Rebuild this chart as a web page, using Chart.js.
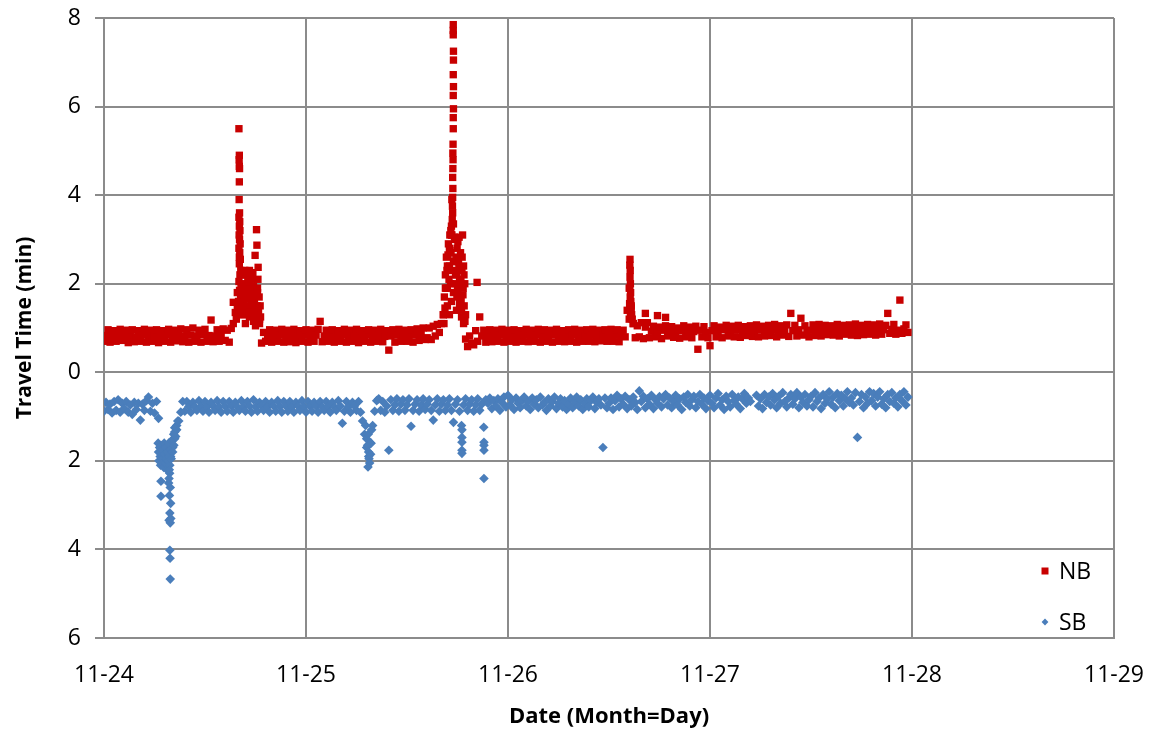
<!DOCTYPE html>
<html>
<head>
<meta charset="utf-8">
<script src="https://cdn.jsdelivr.net/npm/chart.js@4.4.0/dist/chart.umd.min.js"></script>
<style>
  body { margin: 0; background: #fff; }
  canvas { display: block; }
</style>
</head>
<body>
<canvas id="chart1" width="1149" height="730"></canvas>
<script>
// time in days after 11-24 00:00, regular readings every STEP days
const STEP = 0.01;
const dayLabels = ['11-24', '11-25', '11-26', '11-27', '11-28', '11-29'];

const nbValues = [
  0.7,0.83,0.96,0.68,0.82,0.94,0.7,0.84,0.97,0.72,
  0.81,0.95,0.67,0.83,0.96,0.69,0.8,0.94,0.7,0.84,
  0.97,0.68,0.82,0.95,0.7,0.83,0.96,0.67,0.81,0.94,
  0.7,0.84,0.97,0.68,0.82,0.95,0.71,0.83,0.98,0.69,
  0.82,0.96,0.68,0.84,1.0,0.7,0.82,0.95,0.68,0.85,
  0.97,0.7,0.83,1.18,0.69,0.82,0.96,0.7,0.84,0.98,
  0.72,0.95,0.68,0.99,1.1,1.35,1.8,2.6,1.9,1.5,
  1.3,1.7,2.1,1.6,1.9,1.4,1.8,1.2,0.66,0.9,
  0.7,0.83,0.96,0.68,0.82,0.95,0.7,0.84,0.97,0.68,
  0.82,0.95,0.69,0.83,0.97,0.67,0.81,0.94,0.7,0.84,
  0.96,0.68,0.82,0.95,0.7,0.84,0.97,1.15,0.69,0.82,
  0.95,0.7,0.83,0.96,0.68,0.82,0.94,0.7,0.84,0.97,
  0.68,0.82,0.95,0.7,0.83,0.97,0.67,0.81,0.94,0.7,
  0.84,0.96,0.68,0.82,0.95,0.7,0.83,0.97,0.69,0.81,
  0.94,0.5,0.82,0.96,0.68,0.84,0.97,0.7,0.82,0.95,
  0.7,0.83,0.96,0.68,0.84,0.98,0.72,0.85,1.0,0.74,
  0.78,1.0,0.74,1.04,0.82,1.08,0.9,1.1,1.3,1.9,
  2.4,2.8,3.1,2.5,2.2,1.9,1.6,1.4,1.1,0.75,
  0.58,0.82,0.66,0.62,0.94,0.7,1.25,0.82,0.95,0.68,
  0.83,0.96,0.69,0.82,0.95,0.7,0.84,0.97,0.68,0.81,
  0.95,0.7,0.83,0.96,0.68,0.82,0.94,0.7,0.84,0.97,
  0.69,0.82,0.95,0.7,0.84,0.97,0.68,0.83,0.96,0.7,
  0.82,0.95,0.68,0.84,0.97,0.7,0.82,0.94,0.69,0.83,
  0.96,0.7,0.84,0.97,0.68,0.82,0.95,0.7,0.83,0.96,
  0.7,0.84,0.97,0.69,0.82,0.95,0.71,0.83,0.96,0.7,
  0.83,0.97,0.7,0.84,0.96,0.69,0.82,0.95,0.8,1.4,
  1.9,1.5,1.1,0.78,1.05,0.8,1.12,0.76,1.02,1.12,
  0.78,0.93,1.04,0.8,0.9,1.02,0.76,0.95,1.05,0.82,
  0.92,1.03,0.79,0.88,1.0,0.77,0.94,1.05,0.8,0.9,
  1.02,0.78,0.92,1.04,0.52,0.95,0.8,1.03,0.9,0.78,
  0.6,0.94,1.05,0.8,0.91,1.02,0.78,0.96,1.06,0.82,
  0.92,1.04,0.8,0.95,1.06,0.79,0.9,1.03,0.83,0.96,
  1.05,0.81,0.93,1.07,0.8,0.96,1.04,0.82,0.92,1.06,
  0.83,0.95,1.08,0.8,0.94,1.05,0.84,0.97,1.07,0.81,
  1.33,0.94,1.06,0.82,0.96,1.22,0.84,1.05,0.93,0.8,
  0.95,1.07,0.83,0.97,1.08,0.82,0.94,1.06,0.85,0.96,
  1.05,0.84,0.95,1.08,0.82,0.97,1.06,0.86,0.94,1.07,
  0.84,0.96,1.09,0.83,0.95,1.06,0.85,0.98,1.08,0.86,
  0.95,1.07,0.84,0.97,1.09,0.86,0.96,1.06,1.33,0.88,
  0.97,1.08,0.86,0.95,1.63,0.88,0.98,1.07,0.9
];

// extra readings inside the congestion peaks
const nbPeakTimes = [
  0.668,0.670,0.669,0.670,0.671,0.670,0.669,0.671,0.668,0.672,0.670,0.673,0.669,0.671,0.674,
  0.668,0.672,0.675,0.670,0.677,0.673,0.668,0.679,0.671,0.676,0.666,0.680,0.672,0.664,
  0.640,0.655,0.660,0.685,0.690,0.695,0.700,0.705,0.710,0.715,0.720,0.725,0.730,0.735,0.740,
  0.745,0.748,0.752,0.755,0.757,0.758,0.760,0.763,0.765,0.768,0.770,0.773,0.775,0.700,0.720,0.740,0.750,
  0.682,0.687,0.692,0.697,0.702,0.707,0.712,0.717,0.722,0.727,0.732,0.737,0.742,0.747,0.762,0.767,
  1.729,1.729,1.729,1.730,1.730,1.729,1.730,1.729,1.730,1.729,1.729,1.728,1.727,1.728,1.727,
  1.726,1.727,1.726,1.725,1.726,1.722,1.724,1.720,1.730,1.722,1.735,
  1.680,1.685,1.690,1.695,1.700,1.705,1.710,1.712,1.715,1.718,1.720,1.735,1.740,1.745,1.748,
  1.750,1.755,1.758,1.760,1.765,1.768,1.772,1.775,1.778,1.780,1.783,1.786,1.790,
  1.725,1.730,1.738,1.745,1.700,1.710,1.760,1.770,1.847,
  1.683,1.688,1.693,1.698,1.703,1.708,1.713,1.717,1.742,1.747,1.752,1.757,1.762,1.767,1.773,
  1.777,1.782,1.787,
  2.604,2.603,2.605,2.604,2.606,2.603,2.607,2.605,2.608,2.602,2.610,2.612,2.606,2.615,2.600,2.620,
  2.680,2.740,2.780
];
const nbPeakValues = [
  5.5,4.9,4.8,4.65,4.6,4.3,3.9,3.6,3.5,3.4,3.3,3.2,3.1,3.0,2.9,
  2.8,2.7,2.55,2.45,2.3,2.2,2.05,1.95,1.85,1.7,1.6,1.5,1.4,1.3,
  1.58,1.2,1.45,1.3,1.6,2.0,1.8,2.2,1.5,1.9,2.3,1.7,2.1,1.4,1.95,
  1.6,2.64,1.8,3.22,2.87,1.5,1.9,2.37,1.35,1.7,1.1,1.5,1.25,1.1,1.25,1.15,1.05,
  1.9,2.2,1.75,2.3,1.4,1.65,2.05,1.35,1.85,2.2,1.55,2.25,1.3,1.75,2.1,1.15,
  7.85,7.72,7.62,7.25,7.05,6.72,6.45,6.25,5.95,5.75,5.5,5.15,4.95,4.8,4.6,
  4.4,4.15,3.95,3.75,3.6,3.9,3.45,3.3,3.35,3.1,3.05,
  1.3,1.7,2.2,2.6,1.9,2.9,2.4,3.1,2.0,2.7,1.6,2.5,3.0,2.2,2.8,
  1.8,2.5,3.05,2.1,2.7,1.6,2.3,3.1,1.9,2.4,1.5,2.0,1.3,
  2.3,1.8,2.0,1.4,1.5,1.3,1.45,1.25,2.03,
  1.1,1.45,1.9,2.3,2.65,2.1,2.75,3.2,2.6,1.7,2.95,2.35,1.55,2.05,2.6,
  1.75,2.2,1.15,
  2.55,2.42,2.3,2.15,2.0,1.9,1.8,1.7,1.6,1.55,1.45,1.3,1.35,1.2,1.2,1.1,
  1.33,1.28,1.24
];

const sbValues = [
  -0.88,-0.68,-0.84,-0.72,-0.92,-0.66,-0.86,-0.62,-0.9,-0.7,
  -0.82,-0.66,-0.9,-0.74,-0.95,-0.68,-0.84,-0.7,-1.08,-0.72,
  -0.86,-0.64,-0.56,-0.88,-0.7,-0.92,-0.66,-1.04,-1.7,-1.9,
  -2.0,-1.8,-2.2,-1.9,-1.7,-1.5,-1.3,-1.1,-0.9,-0.66,
  -0.88,-0.66,-0.77,-0.9,-0.68,-0.78,-0.86,-0.64,-0.76,-0.88,
  -0.66,-0.78,-0.9,-0.68,-0.76,-0.86,-0.64,-0.78,-0.9,-0.66,
  -0.77,-0.88,-0.66,-0.76,-0.9,-0.68,-0.78,-0.86,-0.64,-0.77,
  -0.88,-0.66,-0.76,-0.9,-0.62,-0.78,-0.88,-0.68,-0.76,-0.86,
  -0.66,-0.78,-0.9,-0.68,-0.76,-0.88,-0.64,-0.77,-0.9,-0.66,
  -0.76,-0.88,-0.66,-0.78,-0.9,-0.68,-0.76,-0.86,-0.64,-0.78,
  -0.9,-0.66,-0.77,-0.88,-0.68,-0.76,-0.9,-0.66,-0.78,-0.86,
  -0.66,-0.77,-0.9,-0.68,-0.78,-0.86,-0.64,-0.76,-1.15,-0.88,
  -0.66,-0.78,-0.9,-0.68,-0.76,-0.86,-0.66,-0.9,-1.1,-1.4,
  -1.7,-1.9,-1.6,-1.2,-0.88,-0.64,-0.6,-0.86,-0.66,-0.9,
  -0.76,-1.76,-0.62,-0.86,-0.74,-0.6,-0.88,-0.72,-0.62,-0.86,
  -0.74,-0.6,-1.22,-0.86,-0.72,-0.62,-0.88,-0.74,-0.6,-0.84,
  -0.72,-0.62,-0.86,-1.08,-0.74,-0.6,-0.88,-0.72,-0.62,-0.86,
  -0.74,-0.6,-0.86,-1.13,-0.72,-0.62,-0.88,-1.2,-0.74,-0.6,
  -0.86,-0.72,-0.62,-0.88,-0.74,-0.6,-0.86,-0.72,-1.24,-0.62,
  -0.7,-0.58,-0.82,-0.64,-0.76,-0.6,-0.86,-0.68,-0.56,-0.78,
  -0.52,-0.74,-0.62,-0.84,-0.58,-0.7,-0.8,-0.64,-0.56,-0.76,
  -0.66,-0.84,-0.58,-0.72,-0.62,-0.8,-0.56,-0.74,-0.68,-0.86,
  -0.6,-0.76,-0.66,-0.56,-0.82,-0.7,-0.6,-0.78,-0.64,-0.84,
  -0.72,-0.58,-0.8,-0.66,-0.56,-0.76,-0.62,-0.84,-0.7,-0.6,
  -0.78,-0.64,-0.56,-0.82,-0.68,-0.6,-0.74,-1.7,-0.58,-0.8,
  -0.7,-0.58,-0.84,-0.64,-0.52,-0.78,-0.6,-0.72,-0.54,-0.82,
  -0.62,-0.76,-0.56,-0.68,-0.84,-0.42,-0.66,-0.54,-0.8,-0.6,
  -0.72,-0.52,-0.82,-0.62,-0.7,-0.55,-0.78,-0.6,-0.5,-0.74,
  -0.58,-0.8,-0.66,-0.52,-0.74,-0.6,-0.84,-0.56,-0.68,-0.5,
  -0.76,-0.62,-0.54,-0.8,-0.66,-0.5,-0.72,-0.58,-0.82,-0.64,
  -0.52,-0.7,-0.8,-0.58,-0.48,-0.74,-0.62,-0.84,-0.54,-0.66,
  -0.78,-0.5,-0.64,-0.72,-0.56,-0.82,-0.6,-0.48,-0.7,-0.58,
  -0.66,null,null,-0.52,-0.76,-0.6,-0.82,-0.5,-0.68,-0.56,
  -0.74,-0.48,-0.62,-0.8,-0.54,-0.7,-0.46,-0.66,-0.78,-0.58,
  -0.5,-0.72,-0.6,-0.46,-0.8,-0.56,-0.68,-0.5,-0.76,-0.62,
  -0.54,-0.78,-0.46,-0.66,-0.58,-0.82,-0.5,-0.7,-0.6,-0.44,
  -0.72,-0.56,-0.8,-0.48,-0.64,-0.52,-0.76,-0.6,-0.44,-0.68,
  -0.58,-0.74,-0.46,-1.47,-0.66,-0.5,-0.8,-0.56,-0.7,-0.44,
  -0.64,-0.48,-0.76,-0.56,-0.44,-0.72,-0.6,-0.8,-0.5,-0.66,
  -0.46,-0.7,-0.58,-0.78,-0.5,-0.64,-0.44,-0.74,-0.56
];

const sbPeakTimes = [
  0.268,0.270,0.272,0.275,0.278,0.280,0.282,0.285,0.288,0.290,0.293,0.296,0.298,0.300,0.303,
  0.306,0.309,0.312,0.315,0.318,0.320,0.323,0.326,0.330,0.333,0.336,0.340,0.343,0.346,0.350,
  0.355,0.360,0.365,0.350,0.345,
  0.325,0.322,0.328,0.324,0.330,0.326,0.322,0.328,0.326,0.327,0.328,0.282,0.282,0.320,0.331,0.323,
  1.300,1.305,1.310,1.312,1.315,1.307,1.320,1.308,1.322,1.325,1.295,
  1.772,1.772,1.772,1.772,1.772,
  1.881,1.881,1.881,1.881
];
const sbPeakValues = [
  -1.6,-1.8,-2.0,-1.7,-1.9,-2.1,-1.65,-1.85,-2.05,-1.75,-1.95,-2.15,-1.6,-1.85,-2.05,
  -1.7,-1.95,-2.2,-1.8,-2.0,-1.6,-1.9,-2.1,-1.75,-1.95,-1.55,-1.8,-1.5,-1.65,-1.35,
  -1.45,-1.2,-1.1,-1.25,-1.4,
  -2.28,-2.4,-2.6,-2.78,-2.96,-3.18,-3.34,-3.4,-4.02,-4.2,-4.67,-2.46,-2.8,-2.5,-3.3,-2.2,
  -1.5,-1.65,-1.8,-1.95,-2.05,-2.14,-1.85,-1.4,-1.6,-1.3,-1.2,
  -1.3,-1.47,-1.58,-1.76,-1.83,
  -1.58,-1.65,-1.76,-2.4
];

function toPoints(values, times, peakValues) {
  const pts = [];
  values.forEach((v, i) => { if (v !== null) pts.push({ x: i * STEP, y: v }); });
  times.forEach((t, i) => pts.push({ x: t, y: peakValues[i] }));
  return pts;
}

const gridColor = '#8b8b8b';
const fontFamily = '"Open Sans", sans-serif';

// legend drawn inside the plot, lower right
const innerLegend = {
  id: 'innerLegend',
  afterDraw(chart) {
    const ctx = chart.ctx;
    const a = chart.chartArea;
    const rows = [a.bottom - 67, a.bottom - 16];
    chart.data.datasets.forEach((ds, i) => {
      const x = a.right - 69;
      const y = rows[i];
      ctx.save();
      ctx.fillStyle = ds.backgroundColor;
      ctx.beginPath();
      if (ds.pointStyle === 'rect') {
        ctx.rect(x - 3.5, y - 3.5, 7, 7);
      } else {
        ctx.moveTo(x, y - 3.4); ctx.lineTo(x + 3.4, y);
        ctx.lineTo(x, y + 3.4); ctx.lineTo(x - 3.4, y);
        ctx.closePath();
      }
      ctx.fill();
      ctx.fillStyle = '#000';
      ctx.font = '23px ' + fontFamily;
      ctx.textAlign = 'left';
      ctx.textBaseline = 'middle';
      ctx.fillText(ds.label, x + 14, y + 1);
      ctx.restore();
    });
  }
};

new Chart(document.getElementById('chart1'), {
  type: 'scatter',
  data: {
    datasets: [
      {
        label: 'NB',
        data: toPoints(nbValues, nbPeakTimes, nbPeakValues),
        backgroundColor: '#c80000',
        borderColor: '#c80000',
        pointStyle: 'rect',
        pointRadius: 5.2,
        pointBorderWidth: 0
      },
      {
        label: 'SB',
        data: toPoints(sbValues, sbPeakTimes, sbPeakValues),
        backgroundColor: '#4a7ebb',
        borderColor: '#4a7ebb',
        pointStyle: 'rectRot',
        pointRadius: 4.8,
        pointBorderWidth: 0
      }
    ]
  },
  options: {
    responsive: false,
    animation: false,
    devicePixelRatio: 1,
    layout: { autoPadding: false, padding: { left: 0, right: 35, top: 18, bottom: 0 } },
    plugins: {
      legend: { display: false },
      tooltip: { enabled: false }
    },
    scales: {
      x: {
        type: 'linear',
        min: 0,
        max: 5,
        // fixed axis box; labels may overhang the plot edges
        afterFit: (s) => { s.height = 92; s.paddingLeft = 0; s.paddingRight = 0; },
        ticks: {
          stepSize: 1,
          padding: 24,
          color: '#000',
          font: { family: fontFamily, size: 23 },
          callback: (v) => dayLabels[v]
        },
        grid: { color: gridColor, lineWidth: 2, drawTicks: false },
        border: { color: gridColor, width: 2 },
        title: {
          display: true,
          text: 'Date (Month=Day)',
          color: '#000',
          font: { family: fontFamily, size: 22, weight: 'bold' },
          padding: { top: 0, bottom: 0 }
        }
      },
      y: {
        min: -6,
        max: 8,
        afterFit: (s) => { s.width = 104; s.paddingTop = 0; s.paddingBottom = 0; },
        ticks: {
          stepSize: 2,
          padding: 14,
          color: '#000',
          font: { family: fontFamily, size: 23 },
          callback: (v) => Math.abs(v)
        },
        grid: { color: gridColor, lineWidth: 2, tickLength: 9 },
        border: { color: gridColor, width: 2 },
        title: {
          display: true,
          text: 'Travel Time (min)',
          color: '#000',
          font: { family: fontFamily, size: 21, weight: 'bold' },
          padding: { top: 12, bottom: 0 }
        }
      }
    }
  },
  plugins: [innerLegend]
});
</script>
</body>
</html>
